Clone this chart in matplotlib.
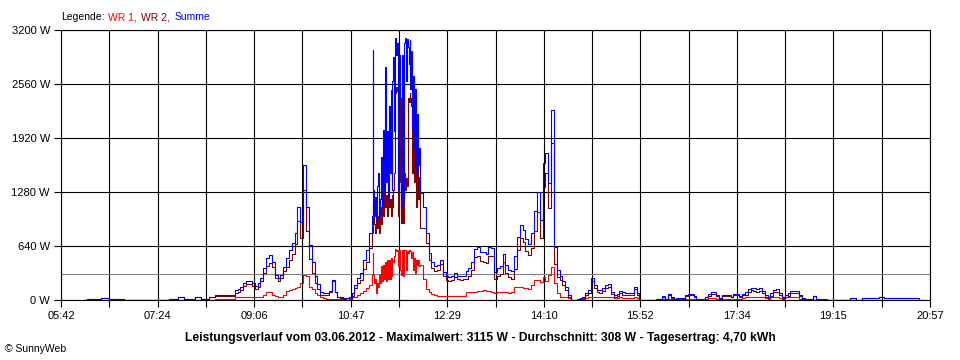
import numpy as np
import matplotlib
matplotlib.use("Agg")
import matplotlib.pyplot as plt
from matplotlib.ticker import FixedLocator

plt.rcParams["font.family"] = ["Liberation Sans", "DejaVu Sans"]

# sample times in minutes after midnight (3 min, 1 min around the noon peak)
t_morning = np.arange(366, 667, 3)
t_peak = np.arange(669, 720, 1)
t_after = np.arange(720, 1246, 3)

# WR 1 (W)
wr1_morning = ([0] * 46 + [10] * 7 +
               [35, 30, 30, 30, 30, 35, 35, 35, 40, 40, 60, 95, 95, 60, 45, 40,
                40, 55, 110, 120, 130, 140, 160, 200, 300, 280, 160, 130, 80, 60,
                40, 20, 15, 15, 10, 10, 10, 10, 10, 20, 25, 30, 40, 60, 80, 110,
                140, 180])
wr1_peak = [300, 555, 300, 200, 250, 80, 200, 150, 300, 200, 400, 220, 420, 250,
            450, 220, 470, 250, 480, 250, 500, 280, 480, 450, 520, 600, 580, 590,
            400, 590, 350, 300, 590, 290, 590, 590, 350, 580, 560, 590, 590, 580,
            500, 570, 350, 500, 320, 480, 420, 475, 400]
wr1_after = ([420, 250, 130, 90, 75, 60, 50, 50, 50, 45, 45, 45, 45, 45, 45, 45,
              90, 95, 95, 100, 110, 110, 120, 110, 110, 100, 80, 90, 90, 100, 90,
              85, 90, 155, 155, 155, 140, 140, 130, 180, 237, 237, 215, 275, 230,
              300, 395, 200, 80, 40, 40, 35, 20, 0] +
             [0, 5, 10, 15, 20, 30, 40, 40, 30, 30, 30, 35, 35, 30, 25, 25, 30, 25,
              25, 25, 25, 30, 20, 0] +
             [0] * 5 +
             [0, 0, 15, 10, 15, 10, 5, 5, 5, 5, 15, 15, 15, 10, 5, 5, 5, 10, 20, 20,
              20, 15, 5, 15, 15, 15, 10, 15, 15, 10, 20, 30, 30, 30, 30, 30, 30, 30,
              20, 15, 30, 30, 30, 20, 15, 30, 30, 30, 30, 30, 15, 5, 5, 5, 5, 5, 5,
              5, 5, 5, 5, 0] +
             [0] * 31)

# WR 2 (W)
wr2_morning = ([0, 10, 10, 10, 10, 10, 20, 20, 20, 10, 10, 10, 10, 10] + [0] * 16 +
               [10, 10, 10, 40, 40, 15, 15, 15, 15, 30, 30, 10, 10, 10, 40, 40] +
               [50] * 7 +
               [83, 96, 120, 170, 195, 195, 170, 130, 160, 220, 320, 405, 435, 390,
                255, 225, 256, 340, 390, 470, 550, 660, 940, 730, 1300, 820, 490,
                320, 200, 130, 60, 60, 65, 95, 227, 90, 30, 20, 15, 5, 15, 50, 140,
                200, 240, 370, 450, 620])
wr2_peak = [800, 1150, 1070, 900, 800, 1000, 850, 1000, 800, 1100, 900, 1300, 1000,
            1300, 1100, 1250, 1000, 1620, 1100, 1200, 1000, 1250, 1100, 1300, 1500,
            2450, 2520, 2480, 1000, 2450, 1400, 910, 1300, 910, 1500, 1300, 1450,
            1350, 2400, 2350, 2450, 2400, 2300, 1500, 2200, 1400, 2000, 1100, 1700,
            1200, 1460]
wr2_after = ([850, 850, 670, 470, 375, 340, 360, 425, 280, 235, 230, 240, 270, 245,
              240, 245, 250, 280, 355, 510, 520, 460, 450, 440, 520, 520, 250, 290,
              310, 450, 325, 275, 250, 365, 595, 735, 690, 580, 530, 620, 813, 1043,
              735, 1345, 1510, 1090, 1855, 430, 270, 240, 180, 115, 40, 0] +
             [0, 5, 10, 25, 60, 88, 220, 140, 90, 88, 110, 145, 155, 70, 35, 45, 80,
              65, 55, 55, 55, 128, 60, 0] +
             [0] * 5 +
             [10, 10, 35, 5, 55, 20, 10, 15, 15, 15, 45, 55, 55, 35, 5, 5, 5, 30, 50,
              75, 75, 45, 15, 45, 45, 45, 30, 55, 55, 40, 55, 60, 100, 115, 110, 95,
              110, 80, 40, 25, 50, 90, 100, 60, 25, 30, 50, 80, 80, 80, 45, 15, 5, 5,
              5, 45, 5, 5, 5, 5, 0, 0] +
             [0] * 6 +
             [20, 20, 0, 0, 20, 20, 20, 20, 20, 20, 30, 30] + [20] * 12 + [0])

# Summe (W)
summe_morning = ([0, 10, 10, 10, 10, 10, 20, 20, 20, 10, 10, 10, 10, 10] + [0] * 16 +
                 [10, 10, 10, 40, 40, 15, 15, 15, 15, 30, 30, 10, 10, 10, 40, 40] +
                 [60] * 7 +
                 [118, 126, 150, 200, 225, 230, 205, 165, 200, 260, 380, 500, 530,
                  450, 300, 265, 296, 395, 500, 590, 680, 800, 1100, 930, 1600, 1100,
                  650, 450, 280, 190, 100, 80, 80, 110, 237, 100, 40, 30, 25, 25, 40,
                  80, 180, 260, 320, 480, 590, 800])
summe_peak = [1000, 2960, 1300, 1000, 1220, 950, 1350, 1500, 1000, 1200, 1700, 1100,
              2010, 1300, 2760, 1400, 2000, 1200, 2300, 1500, 2490, 1300, 2600, 2880,
              2000, 3100, 2900, 3050, 1300, 2900, 2400, 1100, 2900, 1200, 3050, 3100,
              2600, 3090, 3000, 2800, 3080, 2500, 2950, 2000, 2650, 1800, 2500, 1500,
              2200, 1600, 1800]
summe_after = ([1270, 1100, 800, 560, 450, 400, 410, 475, 330, 280, 275, 285, 315,
                290, 285, 290, 340, 375, 450, 610, 630, 570, 570, 550, 630, 620, 330,
                380, 400, 550, 415, 360, 340, 520, 750, 890, 830, 720, 660, 800, 1050,
                1280, 950, 1620, 1740, 1390, 2250, 630, 350, 280, 220, 150, 60, 0] +
               [0, 10, 20, 40, 80, 118, 260, 180, 120, 118, 140, 180, 190, 100, 60,
                70, 110, 90, 80, 80, 80, 158, 80, 0] +
               [0] * 5 +
               [10, 10, 50, 15, 70, 30, 15, 20, 20, 20, 60, 70, 70, 45, 10, 10, 10,
                40, 70, 95, 95, 60, 20, 60, 60, 60, 40, 70, 70, 50, 75, 90, 130, 145,
                140, 125, 140, 110, 60, 40, 80, 120, 130, 80, 40, 60, 80, 110, 110,
                110, 60, 20, 10, 10, 10, 50, 10, 10, 10, 10, 5, 0] +
               [0] * 6 +
               [20, 20, 0, 0, 20, 20, 20, 20, 20, 20, 30, 30] + [20] * 12 + [0])

average = 308
xtick_labels = ["05:42", "07:24", "09:06", "10:47", "12:29",
                "14:10", "15:52", "17:34", "19:15", "20:57"]
yticks = [0, 640, 1280, 1920, 2560, 3200]

t = np.concatenate([t_morning, t_peak, t_after])
wr1 = wr1_morning + wr1_peak + wr1_after
wr2 = wr2_morning + wr2_peak + wr2_after
summe = summe_morning + summe_peak + summe_after

fig = plt.figure(figsize=(9.6, 3.6), dpi=100)
ax = fig.add_axes([61 / 960, 60 / 360, 869 / 960, 270 / 360])

ax.plot(t, wr1, drawstyle="steps-post", color="#ff0000", lw=0.8, zorder=2)
ax.plot(t, wr2, drawstyle="steps-post", color="#800000", lw=0.8, zorder=2.1)
ax.plot(t, summe, drawstyle="steps-post", color="#0000ff", lw=0.8, zorder=2.2)
ax.axhline(average, color="#808080", lw=0.75, zorder=1)

xt = np.linspace(342, 1257, 10)
ax.set_xlim(342, 1257)
ax.set_ylim(0, 3200)
ax.xaxis.set_major_locator(FixedLocator(xt))
ax.xaxis.set_minor_locator(FixedLocator((xt[:-1] + xt[1:]) / 2))
ax.set_xticklabels(xtick_labels)
ax.set_yticks(yticks)
ax.set_yticklabels([f"{v} W" for v in yticks])

ax.set_axisbelow(True)
ax.grid(axis="x", which="both", color="black", lw=0.8)
ax.grid(axis="y", which="major", color="black", lw=0.8)
ax.tick_params(which="both", length=5, width=0.8, direction="out", labelsize=8, pad=3)
for sp in ax.spines.values():
    sp.set_linewidth(0.8)
    sp.set_zorder(3)

fig.text(0.5, 0.061, "Leistungsverlauf vom 03.06.2012 - Maximalwert: 3115 W - "
         "Durchschnitt: 308 W - Tagesertrag: 4,70 kWh",
         ha="center", va="center", fontsize=8.7, fontweight="bold")
fig.text(5 / 960, 1 - 349 / 360, "\u00a9 SunnyWeb", ha="left", va="center", fontsize=7.5)

# coloured legend line at the top
renderer = fig.canvas.get_renderer()
x = 61 / 960
for label, col in [("Legende:", "black"), ("WR 1,", "#ff0000"),
                   ("WR 2,", "#800000"), ("Summe", "#0000ff")]:
    txt = fig.text(x, 1 - 17 / 360, label, color=col, ha="left", va="center", fontsize=7.5)
    bb = txt.get_window_extent(renderer)
    x = (bb.x1 + 4) / 960

fig.savefig("out.png", dpi=100)
